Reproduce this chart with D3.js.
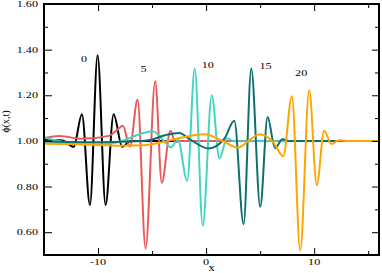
<!DOCTYPE html>
<html>
<head>
<meta charset="utf-8">
<script src="https://cdn.jsdelivr.net/npm/d3@7"></script>
<style>
  body { margin: 0; background: #fff; }
  text { font-family: "Liberation Serif", "DejaVu Serif", serif; fill: #000; }
</style>
</head>
<body>
<div id="chart"></div>
<script>
// wave profiles phi(x,t), one pair of arrays per time
var t0_x = [-15, -13.3, -12.25, -11.49, -10.75, -10.04, -9.30, -8.56, -7.76, -7.0, 16];
var t0_y = [1.005, 1.002, 0.974, 1.117, 0.719, 1.375, 0.719, 1.117, 0.974, 1.0, 1.0];

var t5_x = [-15, -13.6, -11.5, -9.0, -8.3, -7.7, -7.05, -6.34, -5.60, -4.71, -4.10, -3.30, -2.85, -2.4, 16];
var t5_y = [1.013, 1.022, 1.009, 1.022, 1.045, 1.066, 0.975, 1.181, 0.529, 1.261, 0.817, 1.044, 0.995, 1.0, 1.0];

var t10_x = [-15, -13, -11, -9.5, -8.0, -6.7, -4.93, -3.9, -3.25, -2.6, -1.75, -1.05, -0.31, 0.52, 1.23, 1.95, 2.6, 16];
var t10_y = [1.015, 0.994, 0.984, 0.985, 0.996, 1.02, 1.042, 1.0, 0.972, 1.005, 0.825, 1.317, 0.628, 1.20, 0.923, 1.012, 0.998, 1.0];

var t15_x = [-15, -10, -7, -5.2, -3.8, -2.47, -1.54, 0.24, 1.69, 2.61, 3.47, 4.18, 5.01, 5.69, 6.37, 7.07, 7.7, 16];
var t15_y = [0.997, 0.994, 0.997, 1.004, 1.025, 1.035, 1.008, 0.967, 1.01, 1.088, 0.635, 1.317, 0.711, 1.105, 0.969, 1.007, 1.0, 1.0];

var t20_x = [-15, -11, -8, -5.8, -4, -2.5, -0.16, 1.5, 2.92, 4.2, 4.92, 6.2, 7.14, 7.94, 8.71, 9.54, 10.24, 10.92, 11.6, 12.3, 13, 16];
var t20_y = [0.988, 0.985, 0.979, 0.981, 0.995, 1.012, 1.029, 1.0, 0.971, 1.01, 1.029, 0.995, 0.933, 1.196, 0.519, 1.222, 0.806, 1.044, 0.986, 1.003, 1.0, 1.0];

var seriesNames = ["0", "5", "10", "15", "20"];
var seriesColors = ["#000000", "#ea5a5a", "#45d3c4", "#0d6f6f", "#ffa500"];

var yTickLabels = ["0.60", "0.80", "1.00", "1.20", "1.40", "1.60"];
var xTickLabels = ["-10", "0", "10"];

// where the time labels sit, in data units
var labelX = [-11.3, -5.8, 0.15, 5.5, 8.8];
var labelY = [1.345, 1.30, 1.32, 1.315, 1.285];

var svgWidth = 382;
var svgHeight = 273;

var margin = {top: 4, right: 3, bottom: 18, left: 44};
var width = svgWidth - margin.left - margin.right;
var height = svgHeight - margin.top - margin.bottom;

var svg = d3.select("#chart")
    .append("svg")
    .attr("width", svgWidth)
    .attr("height", svgHeight);

var chartGroup = svg.append("g")
    .attr("transform", `translate(${margin.left}, ${margin.top})`);

var xScale = d3.scaleLinear().domain([-15, 16]).range([0, width]);
var yScale = d3.scaleLinear().domain([0.5, 1.6]).range([height, 0]);

// clip so curves stay inside the frame
chartGroup.append("clipPath").attr("id", "clip")
    .append("rect").attr("width", width).attr("height", height);

var allX = [t0_x, t5_x, t10_x, t15_x, t20_x];
var allY = [t0_y, t5_y, t10_y, t15_y, t20_y];

var line = d3.line()
    .x(d => xScale(d[0]))
    .y(d => yScale(d[1]))
    .curve(d3.curveMonotoneX);

var curves = chartGroup.append("g").attr("clip-path", "url(#clip)");
allX.forEach(function(xs, i) {
    var pts = xs.map((x, j) => [x, allY[i][j]]);
    curves.append("path")
        .datum(pts)
        .attr("d", line)
        .attr("fill", "none")
        .attr("stroke", seriesColors[i])
        .attr("stroke-width", 2)
        .attr("stroke-linejoin", "round");
});

// ticks on all four sides, pointing inward
function tickAxis(axis, g) {
    g.call(axis);
    g.select(".domain").remove();
    g.selectAll("line").attr("stroke", "#000").attr("stroke-width", 1);
}

var xMajor = [-10, 0, 10];
var xMinor = [-15, -5, 5, 15];
var yMajor = [0.6, 0.8, 1.0, 1.2, 1.4, 1.6];
var yMinor = [0.5, 0.7, 0.9, 1.1, 1.3, 1.5];

tickAxis(d3.axisTop(xScale).tickValues(xMajor).tickSize(7).tickFormat(""),
    chartGroup.append("g").attr("transform", `translate(0, ${height})`));
tickAxis(d3.axisTop(xScale).tickValues(xMinor).tickSize(4).tickFormat(""),
    chartGroup.append("g").attr("transform", `translate(0, ${height})`));
tickAxis(d3.axisBottom(xScale).tickValues(xMajor).tickSize(7).tickFormat(""),
    chartGroup.append("g"));
tickAxis(d3.axisBottom(xScale).tickValues(xMinor).tickSize(4).tickFormat(""),
    chartGroup.append("g"));
tickAxis(d3.axisRight(yScale).tickValues(yMajor).tickSize(8).tickFormat(""),
    chartGroup.append("g"));
tickAxis(d3.axisRight(yScale).tickValues(yMinor).tickSize(4).tickFormat(""),
    chartGroup.append("g"));
tickAxis(d3.axisLeft(yScale).tickValues(yMajor).tickSize(7).tickFormat(""),
    chartGroup.append("g").attr("transform", `translate(${width}, 0)`));
tickAxis(d3.axisLeft(yScale).tickValues(yMinor).tickSize(4).tickFormat(""),
    chartGroup.append("g").attr("transform", `translate(${width}, 0)`));

// frame
chartGroup.append("rect")
    .attr("width", width)
    .attr("height", height)
    .attr("fill", "none")
    .attr("stroke", "#000")
    .attr("stroke-width", 2);

// tick labels (the font in the picture is wide, so stretch it a bit)
var stretch = 1.35;

yTickLabels.forEach(function(lbl) {
    chartGroup.append("text")
        .attr("transform", `translate(-6, ${yScale(+lbl) + 3}) scale(${stretch}, 1)`)
        .attr("text-anchor", "end")
        .attr("font-size", "9px")
        .text(lbl);
});

xTickLabels.forEach(function(lbl) {
    chartGroup.append("text")
        .attr("transform", `translate(${xScale(+lbl)}, ${height + 10}) scale(${stretch}, 1)`)
        .attr("text-anchor", "middle")
        .attr("font-size", "9px")
        .text(lbl);
});

seriesNames.forEach(function(name, i) {
    chartGroup.append("text")
        .attr("transform", `translate(${xScale(labelX[i])}, ${yScale(labelY[i])}) scale(${stretch}, 1)`)
        .attr("text-anchor", "middle")
        .attr("font-size", "9px")
        .text(name);
});

// axis titles
chartGroup.append("text")
    .attr("transform", `translate(${xScale(0.5)}, ${height + 16}) scale(${stretch}, 1)`)
    .attr("text-anchor", "middle")
    .attr("font-size", "10px")
    .text("x");

chartGroup.append("text")
    .attr("transform", `translate(${-margin.left + 9}, ${yScale(1.085)}) rotate(-90)`)
    .attr("text-anchor", "middle")
    .attr("font-size", "10px")
    .text("ϕ(x,t)");
</script>
</body>
</html>
